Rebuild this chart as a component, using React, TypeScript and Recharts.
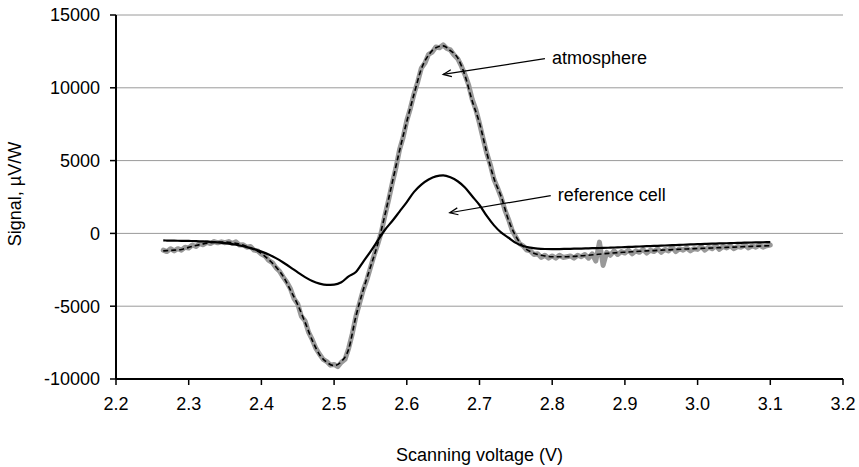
import React from "react";
import {
  LineChart,
  Line,
  XAxis,
  YAxis,
  CartesianGrid,
  ReferenceLine,
  Label,
} from "recharts";

// ---- data ----
const xTicks = [2.2, 2.3, 2.4, 2.5, 2.6, 2.7, 2.8, 2.9, 3.0, 3.1, 3.2];
const yTicks = [-10000, -5000, 0, 5000, 10000, 15000];

const rawVoltage = [
  2.265, 2.27, 2.275, 2.28, 2.285, 2.29, 2.295, 2.3, 2.305, 2.31, 2.315, 2.32, 2.325, 2.33, 2.335,
  2.34, 2.345, 2.35, 2.355, 2.36, 2.365, 2.37, 2.375, 2.38, 2.385, 2.39, 2.395, 2.4, 2.405, 2.41,
  2.415, 2.42, 2.425, 2.43, 2.435, 2.44, 2.445, 2.45, 2.455, 2.46, 2.465, 2.47, 2.475, 2.48, 2.485,
  2.49, 2.495, 2.5, 2.505, 2.51, 2.515, 2.52, 2.525, 2.53, 2.535, 2.54, 2.545, 2.55, 2.555, 2.56,
  2.565, 2.57, 2.575, 2.58, 2.585, 2.59, 2.595, 2.6, 2.605, 2.61, 2.615, 2.62, 2.625, 2.63, 2.635,
  2.64, 2.645, 2.65, 2.655, 2.66, 2.665, 2.67, 2.675, 2.68, 2.685, 2.69, 2.695, 2.7, 2.705, 2.71,
  2.715, 2.72, 2.725, 2.73, 2.735, 2.74, 2.745, 2.75, 2.755, 2.76, 2.765, 2.77, 2.775, 2.78, 2.785,
  2.79, 2.795, 2.8, 2.805, 2.81, 2.815, 2.82, 2.825, 2.83, 2.835, 2.84, 2.845, 2.85, 2.855, 2.86,
  2.865, 2.87, 2.875, 2.88, 2.885, 2.89, 2.895, 2.9, 2.905, 2.91, 2.915, 2.92, 2.925, 2.93, 2.935,
  2.94, 2.945, 2.95, 2.955, 2.96, 2.965, 2.97, 2.975, 2.98, 2.985, 2.99, 2.995, 3.0, 3.005, 3.01,
  3.015, 3.02, 3.025, 3.03, 3.035, 3.04, 3.045, 3.05, 3.055, 3.06, 3.065, 3.07, 3.075, 3.08, 3.085,
  3.09, 3.095, 3.1,
];
const atmosphereRaw = [
  -1150, -1250, -1050, -1200, -1050, -1150, -950, -1000, -800, -900, -700, -780, -620, -700, -560,
  -650, -580, -640, -560, -700, -580, -800, -780, -950, -900, -1150, -1200, -1420, -1550, -1850,
  -2000, -2350, -2600, -3000, -3350, -3800, -4500, -4850, -5700, -6000, -6800, -7300, -7900, -8300, -8650,
  -8800, -9050, -9000, -9150, -8850, -8650, -7900, -6900, -5700, -4800, -3900, -3200, -2350, -1500, -750,
  100, 1250, 2300, 3450, 4500, 5750, 6600, 7750, 8600, 9600, 10400, 11350, 11700, 12300, 12450,
  12800, 12750, 12950, 12700, 12600, 12250, 12000, 11500, 10900, 10200, 9200, 8500, 7550, 6500, 5500,
  4700, 3700, 3100, 2450, 1600, 950, 200, -250, -700, -850, -1150, -1200, -1450, -1400, -1650,
  -1500, -1700, -1550, -1700, -1500, -1650, -1600, -1550, -1700, -1500, -1600, -1450, -1700, -1400, -1900,
  -600, -2200, -1300, -1500, -1200, -1450, -1250, -1350, -1150, -1400, -1200, -1300, -1100, -1350, -1150,
  -1250, -1050, -1300, -1100, -1200, -950, -1250, -1050, -1150, -1000, -1200, -1050, -1100, -900, -1150,
  -950, -1050, -850, -1100, -900, -1000, -850, -1050, -900, -950, -800, -1000, -850, -950, -800,
  -950, -850, -800,
];

const smoothVoltage = [
  2.265, 2.27, 2.28, 2.29, 2.3, 2.31, 2.32, 2.33, 2.34, 2.35, 2.36, 2.37, 2.38, 2.39, 2.4, 2.41,
  2.42, 2.43, 2.44, 2.45, 2.46, 2.47, 2.48, 2.49, 2.5, 2.51, 2.52, 2.53, 2.54, 2.55, 2.56, 2.57,
  2.58, 2.59, 2.6, 2.61, 2.62, 2.63, 2.64, 2.65, 2.66, 2.67, 2.68, 2.69, 2.7, 2.71, 2.72, 2.73,
  2.74, 2.75, 2.76, 2.77, 2.78, 2.79, 2.8, 2.81, 2.82, 2.83, 2.84, 2.85, 2.86, 2.87, 2.88, 2.89,
  2.9, 2.91, 2.92, 2.93, 2.94, 2.95, 2.96, 2.97, 2.98, 2.99, 3.0, 3.01, 3.02, 3.03, 3.04, 3.05,
  3.06, 3.07, 3.08, 3.09, 3.1,
];
const atmosphereFit = [
  -1200, -1180, -1150, -1100, -960, -830, -720, -640, -600, -600, -640, -730, -900, -1100, -1370, -1800,
  -2300, -2950, -3900, -4900, -6100, -7350, -8330, -8850, -9080, -8800, -7950, -5700, -3890, -2310, -730, 1280,
  3490, 5680, 7690, 9570, 11300, 12250, 12750, 12880, 12550, 12050, 10850, 9100, 7580, 5540, 3750, 2500,
  900, -200, -900, -1250, -1450, -1550, -1600, -1600, -1600, -1580, -1540, -1500, -1450, -1400, -1360, -1320,
  -1290, -1260, -1230, -1200, -1180, -1150, -1130, -1100, -1080, -1060, -1040, -1020, -1000, -980, -960, -940,
  -920, -900, -880, -860, -850,
];
const referenceCell = [
  -480, -490, -500, -510, -520, -530, -550, -580, -620, -670, -740, -830, -940, -1080, -1250, -1450,
  -1700, -2000, -2330, -2680, -3000, -3270, -3450, -3540, -3520, -3350, -2950, -2650, -1950, -1250, -500, 250,
  850, 1500, 2150, 2850, 3350, 3700, 3920, 3980, 3850, 3580, 3150, 2550, 1950, 1200, 550, 50,
  -300, -650, -870, -980, -1040, -1070, -1080, -1075, -1065, -1050, -1040, -1025, -1010, -995, -980, -960,
  -940, -920, -900, -880, -860, -840, -820, -800, -780, -760, -740, -720, -705, -690, -675, -660,
  -645, -630, -620, -610, -600,
];

const atmosphereLabel = "atmosphere";
const atmosphereArrow = [
  { x: 2.79, y: 12000 },
  { x: 2.65, y: 10920 },
];
const referenceLabel = "reference cell";
const referenceArrow = [
  { x: 2.798, y: 2600 },
  { x: 2.659, y: 1420 },
];

const xTitle = "Scanning voltage (V)";
const yTitle = "Signal, µV/W";

const rawData = rawVoltage.map((x, i) => ({ x, y: atmosphereRaw[i] }));
const fitData = smoothVoltage.map((x, i) => ({ x, y: atmosphereFit[i] }));
const refData = smoothVoltage.map((x, i) => ({ x, y: referenceCell[i] }));

const FONT = "'Liberation Sans', Arial, Helvetica, sans-serif";

const makeArrow = (text: string) => (props: any) => {
  const { x1, y1, x2, y2 } = props;
  const ang = Math.atan2(y1 - y2, x1 - x2);
  const len = 9;
  const spread = 0.4;
  const ax1 = x2 + len * Math.cos(ang + spread);
  const ay1 = y2 + len * Math.sin(ang + spread);
  const ax2 = x2 + len * Math.cos(ang - spread);
  const ay2 = y2 + len * Math.sin(ang - spread);
  return (
    <g>
      <line x1={x1} y1={y1} x2={x2} y2={y2} stroke="#000" strokeWidth={1.2} />
      <polyline
        points={`${ax1},${ay1} ${x2},${y2} ${ax2},${ay2}`}
        fill="none"
        stroke="#000"
        strokeWidth={1.2}
      />
      <text x={x1 + 7} y={y1 + 5} fontSize={18} fontFamily={FONT} fill="#000">
        {text}
      </text>
    </g>
  );
};

export default function App() {
  return (
    <div style={{ position: "absolute", left: 0, top: 0, width: 859, height: 467, background: "#fff" }}>
      <LineChart
        width={859}
        height={467}
        margin={{ top: 15, right: 16, left: 0, bottom: 0 }}
        style={{ fontFamily: FONT }}
      >
        <CartesianGrid horizontal vertical={false} stroke="#9a9a9a" strokeWidth={1} />
        <XAxis
          type="number"
          dataKey="x"
          domain={[2.2, 3.2]}
          ticks={xTicks}
          tickFormatter={(v: number) => v.toFixed(1)}
          height={88}
          tickSize={6}
          tickMargin={12}
          axisLine={{ stroke: "#000", strokeWidth: 2 }}
          tickLine={{ stroke: "#000", strokeWidth: 1.5 }}
          tick={{ fill: "#000", fontSize: 18, fontFamily: FONT }}
          allowDataOverflow
        >
          <Label
            content={(p: any) => {
              const vb = p.viewBox || {};
              return (
                <text
                  x={vb.x + vb.width / 2}
                  y={vb.y + 82}
                  textAnchor="middle"
                  fontSize={18}
                  fontFamily={FONT}
                  fill="#000"
                >
                  {xTitle}
                </text>
              );
            }}
          />
        </XAxis>
        <YAxis
          type="number"
          domain={[-10000, 15000]}
          ticks={yTicks}
          width={116}
          tickSize={6}
          tickMargin={10}
          axisLine={{ stroke: "#000", strokeWidth: 2 }}
          tickLine={{ stroke: "#000", strokeWidth: 1.5 }}
          tick={{ fill: "#000", fontSize: 18, fontFamily: FONT }}
          allowDataOverflow
        >
          <Label
            content={(p: any) => {
              const vb = p.viewBox || {};
              const cx = vb.x + 15;
              const cy = vb.y + vb.height / 2 - 3;
              return (
                <text
                  x={cx}
                  y={cy}
                  transform={`rotate(-90, ${cx}, ${cy})`}
                  textAnchor="middle"
                  dominantBaseline="central"
                  fontSize={18}
                  fontFamily={FONT}
                  fill="#000"
                >
                  {yTitle}
                </text>
              );
            }}
          />
        </YAxis>
        <Line
          data={rawData}
          dataKey="y"
          type="linear"
          stroke="#999999"
          strokeWidth={5}
          strokeLinejoin="round"
          strokeLinecap="round"
          dot={false}
          activeDot={false}
          isAnimationActive={false}
        />
        <Line
          data={fitData}
          dataKey="y"
          type="monotone"
          stroke="#000"
          strokeWidth={1.6}
          strokeDasharray="5 3"
          dot={false}
          activeDot={false}
          isAnimationActive={false}
        />
        <Line
          data={refData}
          dataKey="y"
          type="monotone"
          stroke="#000"
          strokeWidth={2.2}
          dot={false}
          activeDot={false}
          isAnimationActive={false}
        />
        <ReferenceLine
          segment={atmosphereArrow}
          shape={makeArrow(atmosphereLabel)}
          ifOverflow="visible"
        />
        <ReferenceLine
          segment={referenceArrow}
          shape={makeArrow(referenceLabel)}
          ifOverflow="visible"
        />
      </LineChart>
    </div>
  );
}
